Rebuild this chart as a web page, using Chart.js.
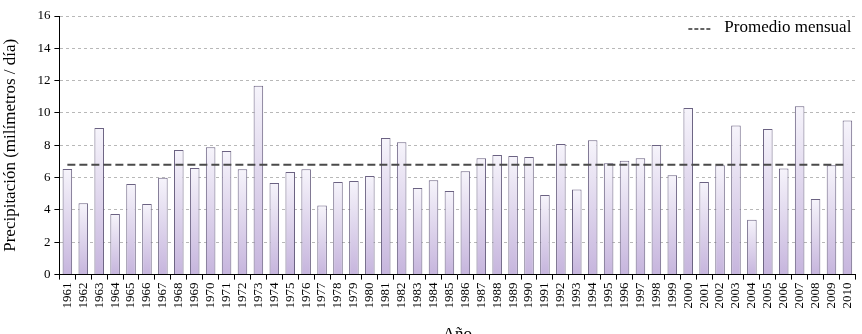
<!DOCTYPE html>
<html>
<head>
<meta charset="utf-8">
<script src="https://cdn.jsdelivr.net/npm/chart.js@4/dist/chart.umd.min.js"></script>
<style>
  html, body { margin: 0; padding: 0; background: #fff; overflow: hidden; }
  #wrap { width: 866px; height: 349px; }
</style>
</head>
<body>
<div id="wrap"><canvas id="chart"></canvas></div>
<script>
// años y precipitación media (mm/día)
const anos = ['1961','1962','1963','1964','1965','1966','1967','1968','1969','1970',
  '1971','1972','1973','1974','1975','1976','1977','1978','1979','1980',
  '1981','1982','1983','1984','1985','1986','1987','1988','1989','1990',
  '1991','1992','1993','1994','1995','1996','1997','1998','1999','2000',
  '2001','2002','2003','2004','2005','2006','2007','2008','2009','2010'];
const precipitacion = [6.54, 4.41, 9.07, 3.75, 5.61, 4.37, 6.0, 7.71, 6.60, 7.88,
  7.65, 6.52, 11.69, 5.67, 6.35, 6.52, 4.27, 5.73, 5.79, 6.10,
  8.45, 8.19, 5.36, 5.84, 5.18, 6.39, 7.20, 7.40, 7.34, 7.28,
  4.93, 8.08, 5.26, 8.31, 6.89, 7.05, 7.20, 8.02, 6.14, 10.31,
  5.73, 6.76, 9.22, 3.40, 9.01, 6.56, 10.41, 4.68, 6.76, 9.53];
const promedioMensual = 6.8;
const ticksY = [0, 2, 4, 6, 8, 10, 12, 14, 16];

const serif = '"Liberation Serif", "DejaVu Serif", serif';
Chart.defaults.font.family = serif;

// degradado por barra: claro arriba, lavanda abajo
function barGradient(context) {
    const chart = context.chart;
    const yScale = chart.scales.y;
    if (!chart.chartArea || !yScale) return '#ddd3ec';
    const top = yScale.getPixelForValue(context.raw);
    const base = yScale.getPixelForValue(0);
    if (!isFinite(top) || !isFinite(base) || top === base) return '#ddd3ec';
    const g = chart.ctx.createLinearGradient(0, top, 0, base);
    g.addColorStop(0, '#f6f4fb');
    g.addColorStop(1, '#c6b5dd');
    return g;
}

// leyenda dentro del área del gráfico, arriba a la derecha
const leyendaPromedio = {
    id: 'leyendaPromedio',
    afterDraw(chart) {
        const { ctx, chartArea } = chart;
        const y = chartArea.top + 12;
        ctx.save();
        ctx.font = '17px ' + serif;
        ctx.fillStyle = '#000';
        ctx.textAlign = 'right';
        ctx.textBaseline = 'middle';
        const texto = chart.data.datasets[0].label;
        const xr = chartArea.right - 4;
        ctx.fillText(texto, xr, y);
        const w = ctx.measureText(texto).width;
        const x1 = xr - w - 14;
        ctx.strokeStyle = '#333';
        ctx.lineWidth = 1.3;
        ctx.setLineDash([4, 2]);
        ctx.beginPath();
        ctx.moveTo(x1 - 22, y + 1);
        ctx.lineTo(x1, y + 1);
        ctx.stroke();
        ctx.restore();
    }
};

new Chart(document.getElementById('chart'), {
    type: 'bar',
    data: {
        labels: anos,
        datasets: [
            {
                type: 'line',
                label: 'Promedio mensual',
                data: anos.map(() => promedioMensual),
                borderColor: '#4a4a4a',
                borderWidth: 2,
                borderDash: [8, 4],
                pointRadius: 0,
                fill: false,
                order: 0
            },
            {
                label: 'Precipitación',
                data: precipitacion,
                backgroundColor: barGradient,
                borderColor: '#6b6282',
                borderWidth: 1,
                borderSkipped: 'bottom',
                barPercentage: 0.6,
                categoryPercentage: 1,
                order: 1
            }
        ]
    },
    options: {
        responsive: true,
        maintainAspectRatio: false,
        animation: false,
        layout: { padding: { top: 16, right: 0, left: 0, bottom: 0 } },
        plugins: {
            tooltip: { enabled: false },
            legend: { display: false }
        },
        scales: {
            x: {
                offset: true,
                grid: {
                    drawOnChartArea: false,
                    drawTicks: true,
                    tickLength: 5,
                    tickColor: '#000',
                    offset: true
                },
                border: { color: '#000', width: 1 },
                ticks: {
                    color: '#000',
                    font: { family: serif, size: 13 },
                    maxRotation: 90,
                    minRotation: 90,
                    autoSkip: false,
                    padding: 3
                },
                title: {
                    display: true,
                    text: 'Año',
                    color: '#000',
                    font: { family: serif, size: 17 },
                    padding: { top: 13 }
                }
            },
            y: {
                min: 0,
                max: 16,
                afterBuildTicks: scale => { scale.ticks = ticksY.map(v => ({ value: v })); },
                grid: {
                    color: '#b8b8b8',
                    tickLength: 5,
                    tickColor: '#000',
                    tickBorderDash: []
                },
                border: { color: '#000', width: 1, dash: [3, 3] },
                ticks: {
                    color: '#000',
                    font: { family: serif, size: 13 },
                    padding: 4
                },
                title: {
                    display: true,
                    text: 'Precipitación (milímetros / día)',
                    color: '#000',
                    font: { family: serif, size: 17 },
                    padding: { top: 0, bottom: 13 }
                }
            }
        }
    },
    plugins: [leyendaPromedio]
});
</script>
</body>
</html>
